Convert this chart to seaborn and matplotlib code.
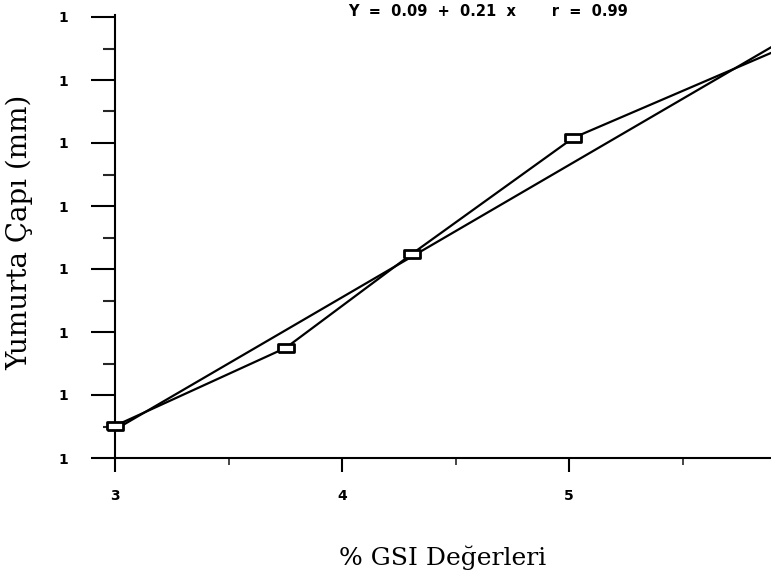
import numpy as np
import pandas as pd
import matplotlib
matplotlib.use("Agg")
import matplotlib.pyplot as plt
from matplotlib.ticker import FixedLocator
import seaborn as sns

# GSI (%) and egg diameter (mm) measurements
gsi = [3.00, 3.753, 4.308, 5.018, 6.00]
egg_diameter = [0.726, 0.850, 0.999, 1.183, 1.335]

# Linear regression coefficients reported on the chart
intercept = 0.09
slope = 0.21

x_ticks = [3, 4, 5]
x_minor = [3.5, 4.5, 5.5]
y_ticks = [0.675, 0.775, 0.875, 0.975, 1.075, 1.175, 1.275, 1.375]
y_minor = [0.725, 0.825, 0.925, 1.025, 1.125, 1.225, 1.325]
y_tick_labels = ["1"] * len(y_ticks)

df = pd.DataFrame({"gsi": gsi, "cap": egg_diameter})
r_value = np.corrcoef(df["gsi"], df["cap"])[0, 1]

fit_x = np.array([df["gsi"].min(), df["gsi"].max()])
fit_df = pd.DataFrame({"gsi": fit_x, "cap": intercept + slope * fit_x})

sns.set_style("white")
plt.rcParams["text.color"] = "black"
fig = plt.figure(figsize=(7.71, 5.81), dpi=100)
ax = fig.add_axes([115 / 771, 1 - 458 / 581, 1 - 115 / 771, (458 - 15) / 581])

# regression line
sns.lineplot(data=fit_df, x="gsi", y="cap", ax=ax, color="black", linewidth=1.6)

# observed values joined by a line, with rectangular markers
rect = [(-1.75, -1), (1.75, -1), (1.75, 1), (-1.75, 1), (-1.75, -1)]
sns.lineplot(data=df, x="gsi", y="cap", ax=ax, color="black", linewidth=1.6,
             marker=rect, markersize=11, markerfacecolor="white",
             markeredgecolor="black", markeredgewidth=2.0, clip_on=False,
             zorder=3)

ax.set_xlim(3.0, 3.0 + 656 / 227)
ax.set_ylim(0.675, 0.675 + 443 / 630)

ax.xaxis.set_major_locator(FixedLocator(x_ticks))
ax.xaxis.set_minor_locator(FixedLocator(x_minor))
ax.yaxis.set_major_locator(FixedLocator(y_ticks))
ax.yaxis.set_minor_locator(FixedLocator(y_minor))
ax.set_xticklabels([str(v) for v in x_ticks])
ax.set_yticklabels(y_tick_labels)

for s in ["top", "right"]:
    ax.spines[s].set_visible(False)
for s in ["left", "bottom"]:
    ax.spines[s].set_linewidth(1.5)
    ax.spines[s].set_color("black")

ax.tick_params(axis="y", which="major", direction="out", length=17, width=1.5,
               pad=17, labelsize=10, colors="black")
ax.tick_params(axis="y", which="minor", direction="out", length=8.5, width=1.5)
ax.tick_params(axis="x", which="major", direction="out", length=10, width=1.5,
               pad=12, labelsize=10, colors="black")
ax.tick_params(axis="x", which="minor", direction="out", length=5, width=1.2)
ax.tick_params(left=True, bottom=True, which="both")
for lab in ax.get_xticklabels() + ax.get_yticklabels():
    lab.set_fontweight("heavy")

ax.set_xlabel("")
ax.set_ylabel("")
fig.text(443 / 771, 1 - 558 / 581, "% GSI Değerleri", family="DejaVu Serif",
         fontsize=18, ha="center", va="center", color="black")
fig.text(20 / 771, 1 - 232 / 581, "Yumurta Çapı (mm)", family="DejaVu Serif",
         fontsize=20, ha="center", va="center", rotation=90, color="black")

eq_text = f"Y  =  {intercept:.2f}  +  {slope:.2f}  x       r  =  {r_value:.2f}"
fig.text(488 / 771, 1 - 12 / 581, eq_text, fontsize=10.5, fontweight="heavy",
         ha="center", va="center", color="black")

fig.savefig("out.png", dpi=100)
